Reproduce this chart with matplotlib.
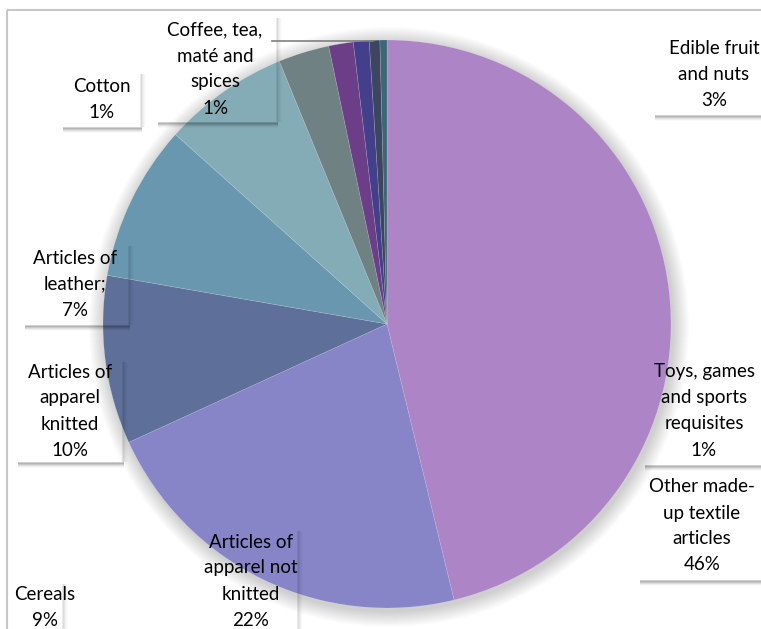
import matplotlib
matplotlib.use("Agg")
import matplotlib.pyplot as plt
from matplotlib.patches import Circle, Rectangle

# slices clockwise from 12 o'clock
categories = ["Other made-up textile articles", "Articles of apparel not knitted",
              "Articles of apparel knitted", "Cereals", "Articles of leather;",
              "Edible fruit and nuts", "Cotton", "Toys, games and sports requisites",
              "Coffee, tea, maté and spices", "Others"]
shares = [46.3, 22.0, 9.6, 8.9, 7.2, 2.9, 1.4, 0.9, 0.6, 0.4]
colors = ["#AD84C6", "#8784C7", "#5E7099", "#6997B0", "#84ACB6",
          "#6F8183", "#6C3E88", "#443F8A", "#3C4660", "#3D6677"]

# label text lines (how the words wrap in the boxes)
label_lines = {
    "Other made-up textile articles": ["Other made-", "up textile", "articles"],
    "Articles of apparel not knitted": ["Articles of", "apparel not", "knitted"],
    "Articles of apparel knitted": ["Articles of", "apparel", "knitted"],
    "Cereals": ["Cereals"],
    "Articles of leather;": ["Articles of", "leather;"],
    "Edible fruit and nuts": ["Edible fruit", "and nuts"],
    "Cotton": ["Cotton"],
    "Toys, games and sports requisites": ["Toys, games", "and sports", "requisites"],
    "Coffee, tea, maté and spices": ["Coffee, tea,", "maté and", "spices"],
}

W, H = 761, 629
fig = plt.figure(figsize=(W / 100, H / 100), dpi=100)
ax = fig.add_axes([0, 0, 1, 1])

cx, cy, r = 387, 324, 284

# outer frame (picture is cropped on right and bottom)
ax.add_patch(Rectangle((7, 10), W + 20, H + 20, fill=False, ec="#C8C8C8", lw=1.5, zorder=0))

# soft glow around the pie
for k in range(16):
    ax.add_patch(Circle((cx + 2, cy + 3), r + 16 - k, fc="#000000", alpha=0.011, lw=0, zorder=1))

ax.pie(shares, colors=colors, startangle=-90, counterclock=True, center=(cx, cy), radius=r,
       wedgeprops=dict(lw=0.4, ec="#FFFFFF40", zorder=2), frame=True)
ax.set_xlim(0, W)
ax.set_ylim(H, 0)
ax.set_aspect("equal")
ax.axis("off")

# label boxes: (box left, top, right, bottom), text centre x, first line y
boxes = {
    "Cotton": ((60, 68, 140, 127), 102, 86),
    "Coffee, tea, maté and spices": ((155, 12, 276, 122), 215, 30),
    "Edible fruit and nuts": ((652, 30, 765, 115), 714, 48),
    "Articles of leather;": ((22, 240, 128, 325), 75, 258),
    "Articles of apparel knitted": ((15, 356, 122, 462), 70, 372),
    "Toys, games and sports requisites": ((642, 355, 765, 465), 704, 372),
    "Other made-up textile articles": ((637, 473, 765, 580), 702, 487),
    "Articles of apparel not knitted": ((203, 525, 297, 640), 251, 542),
    "Cereals": ((10, 578, 62, 640), 45, 594),
}
step = 26
for name, (box, tx, ty) in boxes.items():
    x0, y0, x1, y1 = box
    # blurred drop shadow, strongest along the bottom edge
    for d, a in [(0.5, 0.22), (1.5, 0.16), (2.5, 0.10), (3.5, 0.05), (4.5, 0.025)]:
        ax.plot([x0 + 3, x1 + 2], [y1 + d, y1 + d], color="#000000", alpha=a, lw=1.2,
                solid_capstyle="butt", zorder=3)
        ax.plot([x1 + d, x1 + d], [y0 + 6, y1], color="#000000", alpha=a * 0.45, lw=1.2,
                solid_capstyle="butt", zorder=3)
    pct = shares[categories.index(name)]
    lines = label_lines[name] + ["{:.0f}%".format(pct)]
    for i, line in enumerate(lines):
        ax.text(tx, ty + i * step, line, ha="center", va="center", fontsize=13.5,
                family="Lato", color="#000000", zorder=5)

# leader line from the coffee label
ax.plot([272, 373], [41, 41], color="#7F7F7F", lw=1.2, zorder=4)

fig.savefig("out.png", dpi=100)
